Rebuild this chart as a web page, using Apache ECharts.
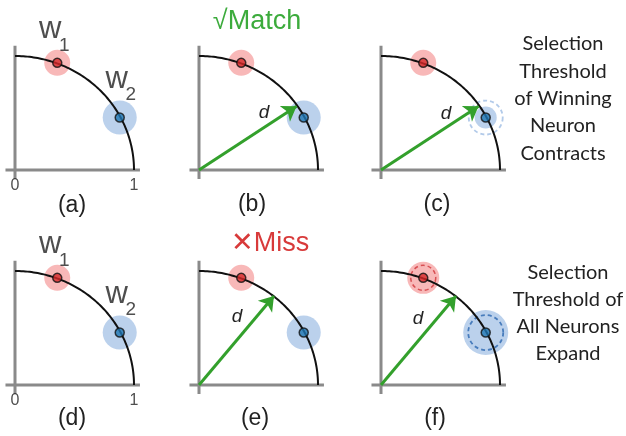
<!DOCTYPE html>
<html><head><meta charset="utf-8">
<script src="https://cdn.jsdelivr.net/npm/echarts@6/dist/echarts.min.js"></script>
<style>html,body{margin:0;padding:0;background:#fff}#c{width:626px;height:436px}</style>
</head><body><div id="c"></div>
<script>
// ---- data (unit-circle coordinates) ----
const W1 = [0.355, 0.94];
const W2 = [0.88, 0.46];
const INPUT_MATCH = [0.82, 0.56];
const INPUT_MISS = [0.63, 0.78];
const ARC_RADIUS = 1;
const AXIS_H = [[-0.08, 0], [1.05, 0]];
const AXIS_V = [[0, -0.08], [0, 1.09]];
const TICKS = [0, 1];
const TICK_LABELS = ['0', '1'];
const PANEL_LABELS = ['(a)', '(b)', '(c)', '(d)', '(e)', '(f)'];
const NOTE_TOP = ['Selection', 'Threshold', 'of Winning', 'Neuron', 'Contracts'];
const NOTE_BOTTOM = ['Selection', 'Threshold of', 'All Neurons', 'Expand'];

// ---- layout / style ----
const SX = 119, SY = 114;
const COLX = [15, 199, 381], ROWY = [170, 385];
const FONT = 'Liberation Sans, Arial, sans-serif';
const C = {
  axis: '#8a8a8a', arc: '#111', redHalo: '#f6a6a6', redDot: '#d62728',
  blueHalo: '#aac5e7', blueDot: '#1f77b4', arrow: '#33a02c',
  match: '#3cab3c', miss: '#d83a3a', text: '#222'
};
const panels = [
  {c:0, r:0, arrow:null, wl:true, red:26, blue:34},
  {c:1, r:0, arrow:INPUT_MATCH, red:26, blue:34},
  {c:2, r:0, arrow:INPUT_MATCH, red:26, blue:22, blueRing:{size:34, color:'#9fbde4'}},
  {c:0, r:1, arrow:null, wl:true, red:26, blue:34},
  {c:1, r:1, arrow:INPUT_MISS, red:26, blue:34},
  {c:2, r:1, arrow:INPUT_MISS, red:32, blue:45, redRing:{size:25, color:'#d0343a'}, blueRing:{size:35, color:'#2a66b0'}}
];

const grid = [], xAxis = [], yAxis = [], series = [];
panels.forEach((p, i) => {
  grid.push({left: COLX[p.c] - 0.1*SX, top: ROWY[p.r] - 1.3*SY, width: 1.2*SX, height: 1.4*SY});
  xAxis.push({gridIndex:i, type:'value', min:-0.1, max:1.1, show:false});
  yAxis.push({gridIndex:i, type:'value', min:-0.1, max:1.3, show:false});
  const ax = {xAxisIndex:i, yAxisIndex:i};
  // halos
  series.push(Object.assign({type:'scatter', z:2, silent:true, data:[
    {value:W1, symbolSize:p.red, itemStyle:{color:C.redHalo}},
    {value:W2, symbolSize:p.blue, itemStyle:{color:C.blueHalo}}
  ]}, ax));
  // dashed rings
  const rings = [];
  if (p.redRing) rings.push({value:W1, symbolSize:p.redRing.size, itemStyle:{color:'rgba(0,0,0,0)', borderColor:p.redRing.color, borderWidth:1.5, borderType:[4,3]}});
  if (p.blueRing) rings.push({value:W2, symbolSize:p.blueRing.size, itemStyle:{color:'rgba(0,0,0,0)', borderColor:p.blueRing.color, borderWidth:1.8, borderType:[4,3]}});
  if (rings.length) series.push(Object.assign({type:'scatter', z:3, silent:true, data:rings}, ax));
  // gray axes
  [AXIS_H, AXIS_V].forEach(d => series.push(Object.assign({type:'line', z:3, silent:true, data:d, showSymbol:false, symbol:'none',
    lineStyle:{color:C.axis, width:3}}, ax)));
  // arc
  series.push(Object.assign({type:'custom', z:4, silent:true, clip:false, data:[[ARC_RADIUS, 0]],
    renderItem: (params, api) => {
      const r = api.value(0), pts = [];
      for (let k = 0; k <= 90; k++) { const t = k/90*Math.PI/2; pts.push(api.coord([r*Math.cos(t), r*Math.sin(t)])); }
      return {type:'polyline', shape:{points:pts}, style:{stroke:C.arc, lineWidth:2, fill:null}};
    }}, ax));
  // arrow
  if (p.arrow) series.push(Object.assign({type:'lines', coordinateSystem:'cartesian2d', z:5, silent:true,
    symbol:['none','arrow'], symbolSize:14,
    lineStyle:{color:C.arrow, width:3, opacity:1}, data:[{coords:[[0,0], p.arrow]}]}, ax));
  // dots
  series.push(Object.assign({type:'scatter', z:6, silent:true, symbolSize:9, data:[
    {value:W1, itemStyle:{color:C.redDot, borderColor:'#111', borderWidth:1.5}},
    {value:W2, itemStyle:{color:C.blueDot, borderColor:'#111', borderWidth:1.5}}
  ]}, ax));
  // neuron labels + tick labels
  if (p.wl) {
    const lab = (v, t, dx, dy, fs) => ({value:v, symbolSize:0, itemStyle:{color:'rgba(0,0,0,0)'},
      label:{show:true, formatter:t, position:[dx, dy], align:'center', verticalAlign:'middle', fontSize:fs, color:C.text, fontFamily:FONT}});
    series.push(Object.assign({type:'scatter', z:7, silent:true, data:[
      lab(W1, 'w', -7, -33, 31), lab(W1, '1', 7, -17, 19),
      lab(W2, 'w', -3, -38, 31), lab(W2, '2', 11, -23, 19),
      lab([TICKS[0], 0], TICK_LABELS[0], 0, 16, 16), lab([TICKS[1], 0], TICK_LABELS[1], 0, 16, 16)
    ]}, ax));
  }
});

const graphic = [];
const txt = (x, y, t, fs, col, extra) => graphic.push({type:'text', x, y, silent:true,
  style:Object.assign({text:t, fontSize:fs, fill:col, fontFamily:FONT, align:'center', verticalAlign:'middle'}, extra||{})});
[[72,206],[252,205],[437,205],[72,419],[255,419],[435,419]].forEach((q, i) => txt(q[0], q[1], PANEL_LABELS[i], 23, C.text));
txt(257, 22, '√Match', 27, C.match);
txt(270, 244, '✕Miss', 27, C.miss);
[[264,113],[446,114],[237,317],[418,319]].forEach(q => txt(q[0], q[1], 'd', 19, C.text, {fontStyle:'italic'}));
NOTE_TOP.forEach((t, k) => txt(563, 44 + k*27.3, t, 20, C.text, {fontFamily:'Lato, sans-serif'}));
NOTE_BOTTOM.forEach((t, k) => txt(568, 273 + k*26.7, t, 20, C.text, {fontFamily:'Lato, sans-serif'}));

const chart = echarts.init(document.getElementById('c'), null, {renderer:'canvas'});
chart.setOption({animation:false, grid, xAxis, yAxis, series, graphic});
</script></body></html>
